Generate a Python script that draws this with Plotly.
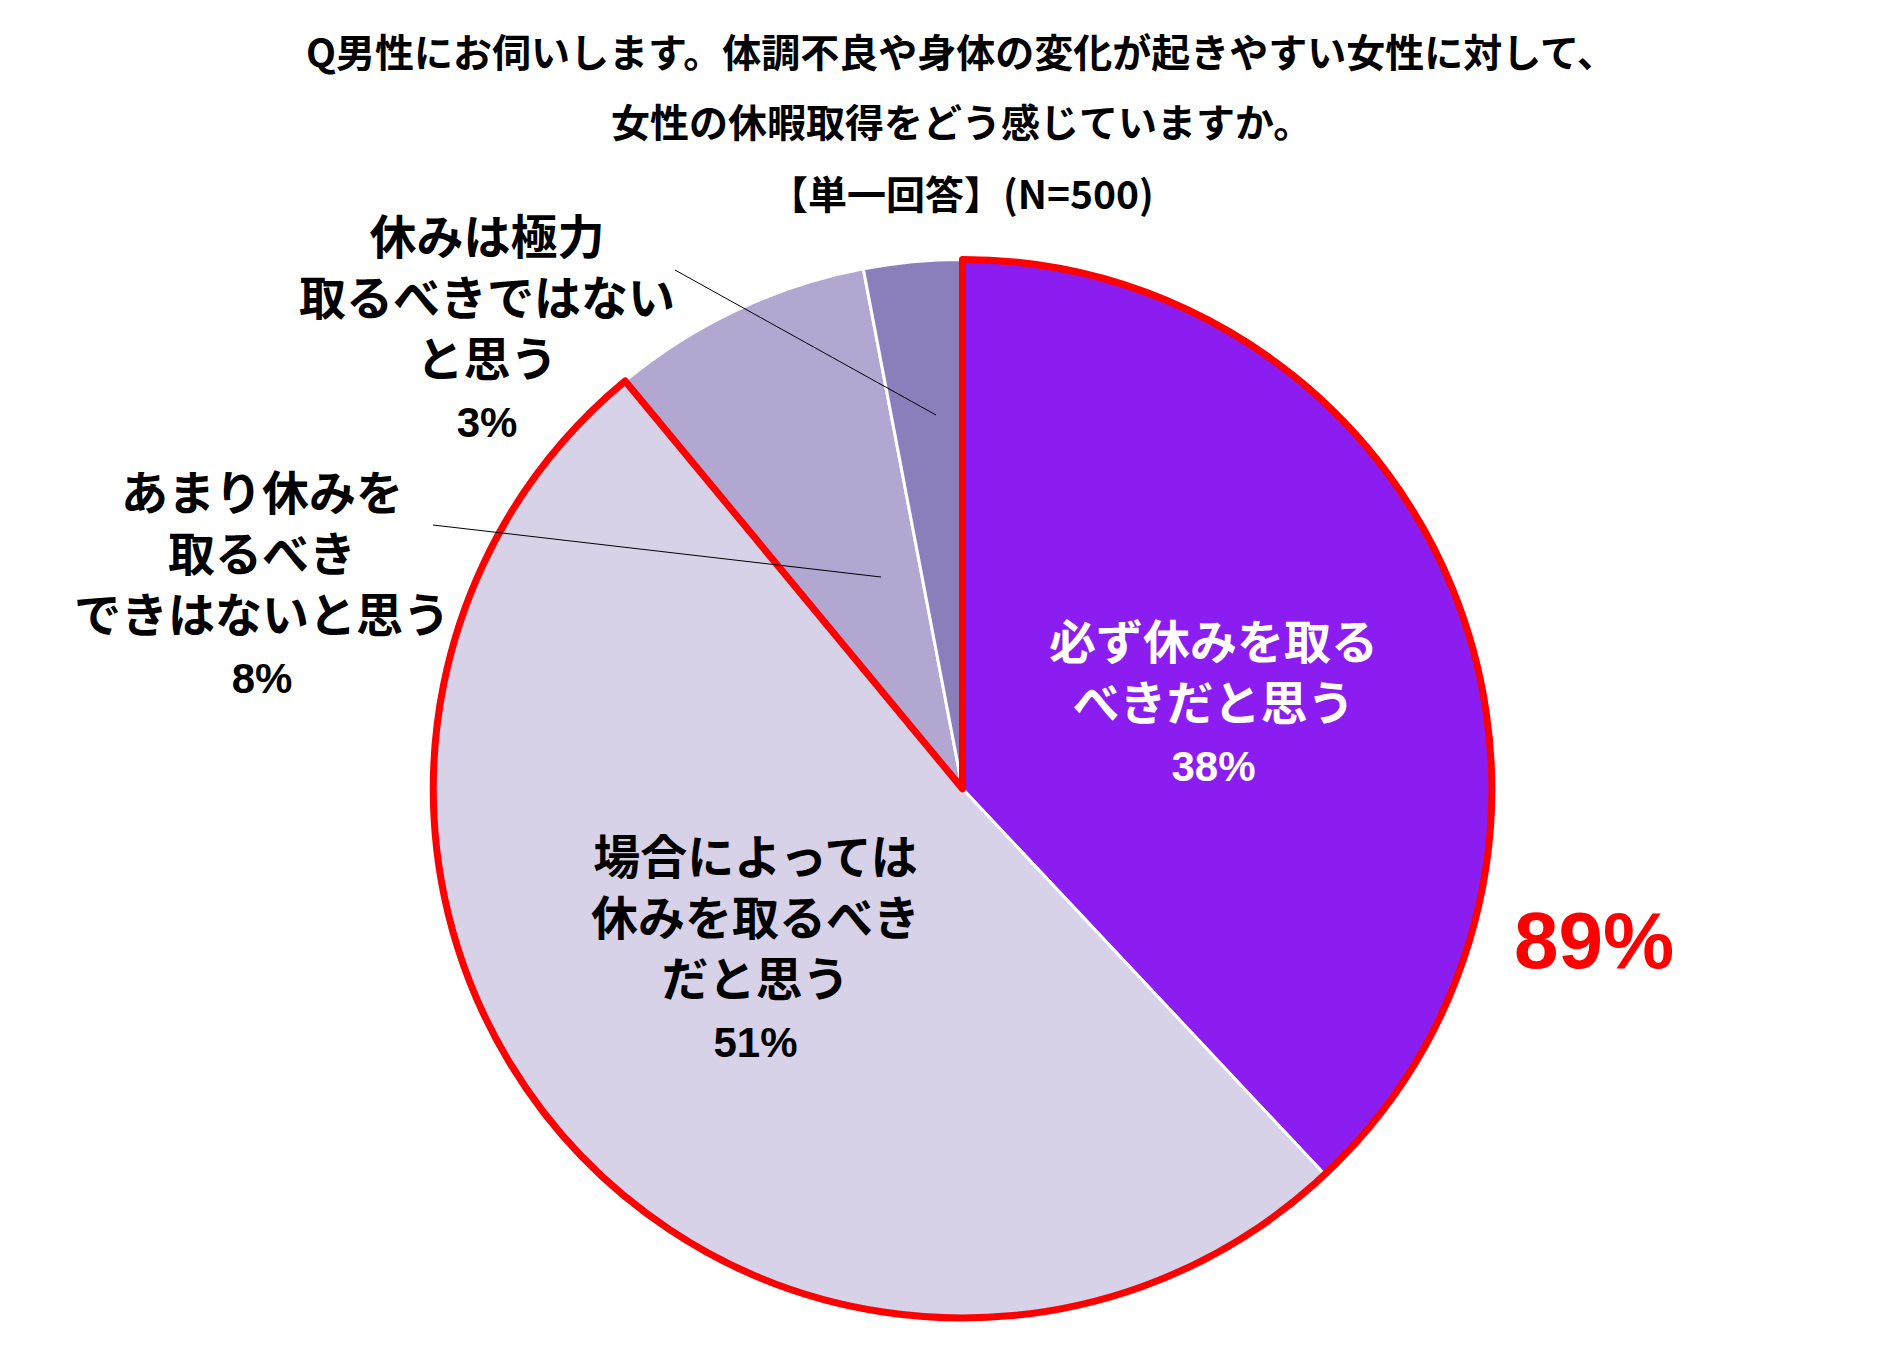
import plotly.graph_objects as go

# ---- data ----
categories = ["必ず休みを取るべきだと思う", "場合によっては休みを取るべきだと思う",
              "あまり休みを取るべきできはないと思う", "休みは極力取るべきではないと思う"]
values = [38, 51, 8, 3]
label_lines = [
    ["必ず休みを取る", "べきだと思う"],
    ["場合によっては", "休みを取るべき", "だと思う"],
    ["あまり休みを", "取るべき", "できはないと思う"],
    ["休みは極力", "取るべきではない", "と思う"],
]
colors = ["#8B1DF0", "#D8D2E8", "#B1A7D1", "#8B7FBB"]
text_colors = ["white", "black", "black", "black"]
title_lines = ["Q男性にお伺いします。体調不良や身体の変化が起きやすい女性に対して、",
               "女性の休暇取得をどう感じていますか。",
               "【単一回答】(N=500)"]
highlight_total = values[0] + values[1]

W, H = 1884, 1350
OFF = 8  # default page body margin


def px(x):
    return (x - OFF) / W


def py(y):
    return 1 - (y - OFF) / H


DOM_X = [px(432), px(1493)]
DOM_Y = [py(1318), py(259.5)]

fig = go.Figure()
fig.add_trace(go.Pie(
    labels=categories, values=values, sort=False, direction="clockwise", rotation=0,
    marker=dict(colors=colors, line=dict(color="white", width=3)),
    textinfo="none", hoverinfo="skip", showlegend=False,
    domain=dict(x=DOM_X, y=DOM_Y),
))
# red outline around the combined "should rest" share
fig.add_trace(go.Pie(
    labels=["highlight", "rest"], values=[highlight_total, sum(values) - highlight_total],
    sort=False, direction="clockwise", rotation=0,
    marker=dict(colors=["rgba(0,0,0,0)", "rgba(0,0,0,0)"],
                line=dict(color=["#FF0000", "rgba(0,0,0,0)"], width=[7, 0])),
    textinfo="none", hoverinfo="skip", showlegend=False,
    domain=dict(x=DOM_X, y=DOM_Y),
))

ann = []
title_y = [50, 120, 192]
for t, y in zip(title_lines, title_y):
    ann.append(dict(text=f"<b>{t}</b>", x=px(961), y=py(y), xref="paper", yref="paper",
                    showarrow=False, xanchor="center", yanchor="middle",
                    font=dict(family="Noto Sans CJK JP", size=39, color="black")))

# label centre x and y of first line, in pixels
label_pos = [(1213, 636), (755, 851), (262, 487), (487, 231)]
line_gap = 61
for i, (lines, (x, y0)) in enumerate(zip(label_lines, label_pos)):
    pct = (f"<span style='font-family:Liberation Sans;font-size:42px'>"
           f"{values[i]}%</span>")
    text = "<b>" + "<br>".join(lines + [pct]) + "</b>"
    yc = y0 + len(lines) * line_gap / 2
    ann.append(dict(text=text, x=px(x), y=py(yc), xref="paper", yref="paper",
                    showarrow=False, xanchor="center", yanchor="middle",
                    font=dict(family="Noto Sans CJK JP", size=47, color=text_colors[i])))

ann.append(dict(text=f"<b>{highlight_total}%</b>", x=px(1594), y=py(940), xref="paper", yref="paper",
                showarrow=False, xanchor="center", yanchor="middle",
                font=dict(family="Liberation Sans", size=80, color="#FF0000")))

# leader lines
leaders = [((675, 270), (936, 415)), ((433, 525), (881, 577))]
shapes = []
for (x0, y0), (x1, y1) in leaders:
    shapes.append(dict(type="line", xref="paper", yref="paper",
                       x0=px(x0), y0=py(y0), x1=px(x1), y1=py(y1),
                       line=dict(color="black", width=1)))

fig.update_layout(
    width=W, height=H, margin=dict(l=0, r=0, t=0, b=0),
    paper_bgcolor="white", plot_bgcolor="white",
    annotations=ann, shapes=shapes,
)
fig.write_html("out.html")
